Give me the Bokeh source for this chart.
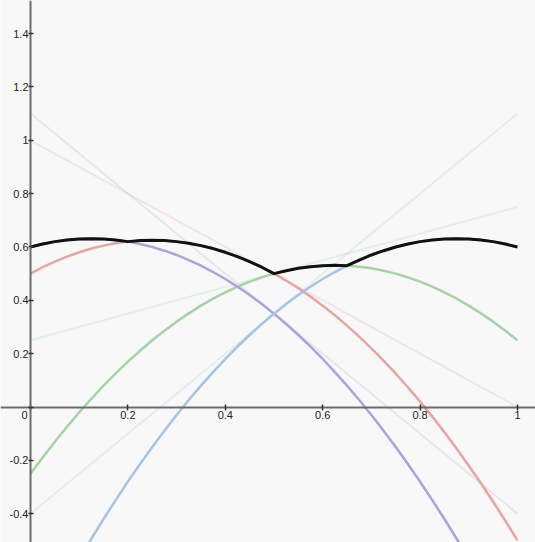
from bokeh.plotting import figure
from bokeh.models import Range1d, FixedTicker, Label
from bokeh.embed import file_html
from bokeh.resources import INLINE

# sample positions along x (step 0.025 from 0 to 1)
xs = [i * 0.025 for i in range(41)]

red_curve = [0.5, 0.524, 0.545, 0.564, 0.58, 0.594, 0.605, 0.614, 0.62, 0.624, 0.625,
             0.624, 0.62, 0.614, 0.605, 0.594, 0.58, 0.564, 0.545, 0.524, 0.5,
             0.474, 0.445, 0.414, 0.38, 0.344, 0.305, 0.264, 0.22, 0.174, 0.125,
             0.074, 0.02, -0.036, -0.095, -0.156, -0.22, -0.286, -0.355, -0.426, -0.5]
green_curve = [-0.25, -0.189, -0.13, -0.074, -0.02, 0.031, 0.08, 0.126, 0.17, 0.211, 0.25,
               0.286, 0.32, 0.351, 0.38, 0.406, 0.43, 0.451, 0.47, 0.486, 0.5,
               0.511, 0.52, 0.526, 0.53, 0.531, 0.53, 0.526, 0.52, 0.511, 0.5,
               0.486, 0.47, 0.451, 0.43, 0.406, 0.38, 0.351, 0.32, 0.286, 0.25]
purple_curve = [0.6, 0.611, 0.62, 0.626, 0.63, 0.631, 0.63, 0.626, 0.62, 0.611, 0.6,
                0.586, 0.57, 0.551, 0.53, 0.506, 0.48, 0.451, 0.42, 0.386, 0.35,
                0.311, 0.27, 0.226, 0.18, 0.131, 0.08, 0.026, -0.03, -0.089, -0.15,
                -0.214, -0.28, -0.349, -0.42, -0.494, -0.57, -0.649, -0.73, -0.814, -0.9]
blue_curve = [-0.9, -0.814, -0.73, -0.649, -0.57, -0.494, -0.42, -0.349, -0.28, -0.214, -0.15,
              -0.089, -0.03, 0.026, 0.08, 0.131, 0.18, 0.226, 0.27, 0.311, 0.35,
              0.386, 0.42, 0.451, 0.48, 0.506, 0.53, 0.551, 0.57, 0.586, 0.6,
              0.611, 0.62, 0.626, 0.63, 0.631, 0.63, 0.626, 0.62, 0.611, 0.6]
envelope = [0.6, 0.611, 0.62, 0.626, 0.63, 0.631, 0.63, 0.626, 0.62, 0.624, 0.625,
            0.624, 0.62, 0.614, 0.605, 0.594, 0.58, 0.564, 0.545, 0.524, 0.5,
            0.511, 0.52, 0.526, 0.53, 0.531, 0.53, 0.551, 0.57, 0.586, 0.6,
            0.611, 0.62, 0.626, 0.63, 0.631, 0.63, 0.626, 0.62, 0.611, 0.6]

# straight (tangent) lines: endpoints at x=0 and x=1
line_x = [0.0, 1.0]
red_line = [1.0, 0.0]
green_line = [0.25, 0.75]
purple_line = [1.1, -0.4]
blue_line = [-0.4, 1.1]

x_ticks = [0, 0.2, 0.4, 0.6, 0.8, 1]
x_tick_labels = ["", "0.2", "0.4", "0.6", "0.8", "1"]
y_ticks = [-0.4, -0.2, 0, 0.2, 0.4, 0.6, 0.8, 1, 1.2, 1.4]
y_tick_labels = ["-0.4", "-0.2", "", "0.2", "0.4", "0.6", "0.8", "1", "1.2", "1.4"]

colors = {
    "red": "#eaa3a3",
    "green": "#a6d3a6",
    "purple": "#aba3e0",
    "blue": "#a3c4e6",
}

p = figure(width=535, height=542, output_backend="svg", toolbar_location=None,
           x_range=Range1d(-0.0616, 1.037), y_range=Range1d(-0.508, 1.524),
           min_border=0)
p.background_fill_color = "#f8f8f8"
p.border_fill_color = "#f8f8f8"
p.outline_line_color = None
p.grid.visible = False

# faint tangent lines
for c, ys in [("red", red_line), ("green", green_line), ("purple", purple_line), ("blue", blue_line)]:
    p.line(line_x, ys, line_color=colors[c], line_alpha=0.22, line_width=2)

# parabolas
for c, ys in [("red", red_curve), ("green", green_curve), ("purple", purple_curve), ("blue", blue_curve)]:
    p.line(xs, ys, line_color=colors[c], line_width=2.5, line_join="round")

# upper envelope
p.line(xs, envelope, line_color="#111111", line_width=3, line_join="round")

for ax in (p.xaxis, p.yaxis):
    ax.fixed_location = 0
    ax.axis_line_color = "#6b6b6b"
    ax.axis_line_width = 2
    ax.major_tick_line_color = "#333333"
    ax.major_tick_line_width = 1.5
    ax.minor_tick_line_color = None
    ax.major_label_text_font = "Liberation Sans"
    ax.major_label_text_font_size = "11px"
    ax.major_label_text_color = "#222222"

p.xaxis.ticker = FixedTicker(ticks=x_ticks)
p.yaxis.ticker = FixedTicker(ticks=y_ticks)
p.xaxis.major_label_overrides = {t: s for t, s in zip(x_ticks, x_tick_labels)}
p.yaxis.major_label_overrides = {t: s for t, s in zip(y_ticks, y_tick_labels)}

p.xaxis.major_tick_in = 3
p.xaxis.major_tick_out = 3
p.xaxis.major_label_standoff = 1
p.yaxis.major_tick_in = 3
p.yaxis.major_tick_out = 2
p.yaxis.major_label_standoff = 0

p.add_layout(Label(x=0, y=0, text="0", x_offset=-3, y_offset=-4,
                   text_align="right", text_baseline="top",
                   text_font="Liberation Sans", text_font_size="11px",
                   text_color="#222222"))

open("out.html", "w").write(file_html(p, INLINE))
